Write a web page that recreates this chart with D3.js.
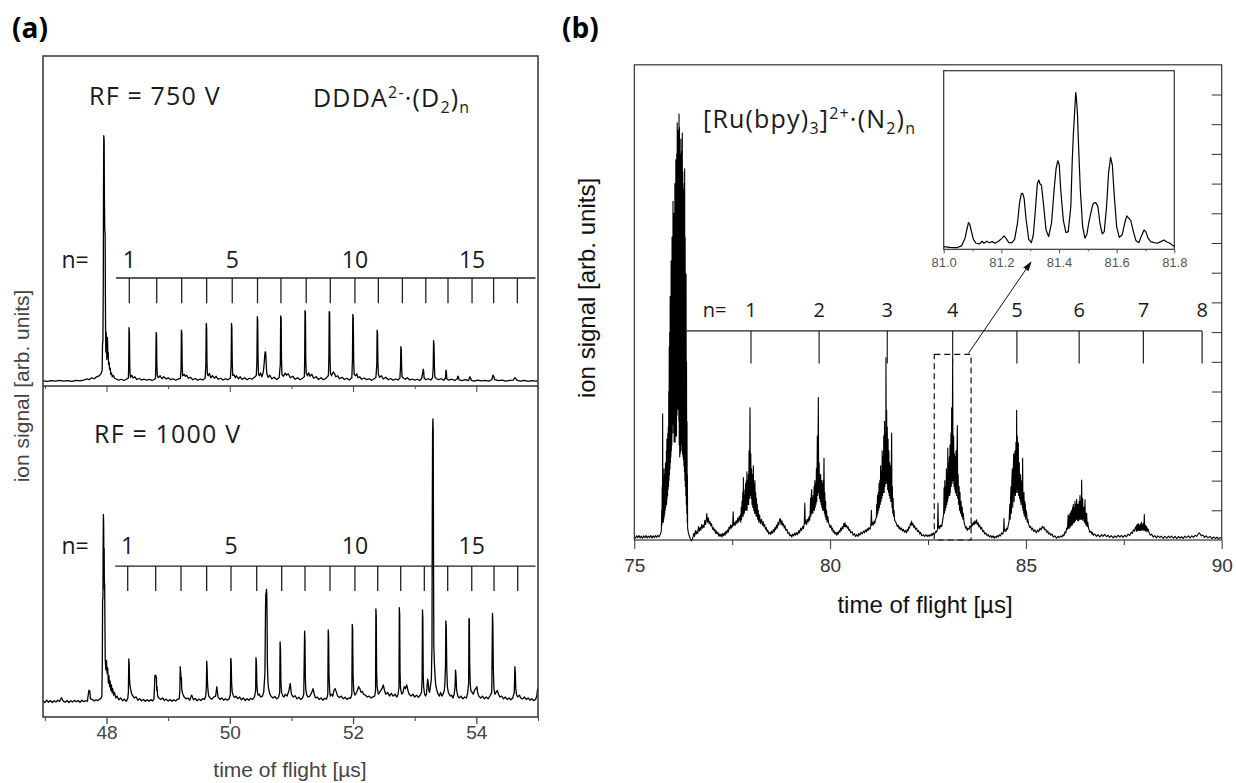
<!DOCTYPE html>
<html>
<head>
<meta charset="utf-8">
<script src="https://cdn.jsdelivr.net/npm/d3@7"></script>
<style>
  body { margin: 0; background: #fff; }
  svg { display: block; }
</style>
</head>
<body>
<svg id="chart" width="1236" height="783"></svg>
<script>
// ---------- panel (a): DDDA2-.(D2)n, time of flight in us, signal in arb. units ----------
const xMajorA = [48, 50, 52, 54];
const xMinorA = [47, 49, 51, 53, 55];

// RF = 750 V (main peak = 100)
const traceTop = [
  [46.97,0.3],[47.04,0.1],[47.1,0.4],[47.17,0.2],[47.24,0.5],[47.3,0.2],[47.37,0.4],[47.44,0.1],[47.51,0.5],[47.57,0.3],
  [47.63,0.6],[47.68,1.1],[47.72,0.8],[47.76,1.6],[47.8,1.2],[47.84,2.0],[47.88,2.4],[47.91,3.2],[47.93,4.6],
  [47.935,15],[47.942,16.5],[47.948,40],[47.952,82],[47.956,100],[47.962,98],[47.966,75],[47.972,62],[47.978,60],[47.982,35],
  [47.986,18],[47.99,12],[47.995,20],[48.0,17],[48.005,9],[48.01,15],[48.016,18],[48.022,10],[48.028,12],[48.034,7],[48.042,8],
  [48.05,5],[48.06,5.5],[48.07,3],[48.08,3.5],[48.095,2],[48.11,2.6],[48.13,1.4],[48.16,1.1],[48.2,0.6],[48.24,1.0],[48.28,0.5],[48.32,0.9],
  [48.355,1.5],[48.36,6],[48.365,22],[48.372,20],[48.377,7],[48.383,3],[48.39,1.8],[48.41,2.6],[48.43,1.5],[48.46,2],[48.49,0.9],
  [48.53,1.3],[48.57,0.7],[48.61,1],[48.65,0.6],[48.7,0.9],[48.74,0.5],[48.78,1.0],
  [48.795,1.4],[48.8,7],[48.806,20],[48.812,19],[48.817,7],[48.824,2.5],[48.84,1.6],[48.87,2.4],[48.9,1.2],[48.93,2.0],[48.97,1.1],
  [49.0,1.6],[49.04,0.8],[49.08,1.2],[49.12,0.6],[49.16,1.0],[49.2,1.3],
  [49.21,6],[49.215,21],[49.222,20],[49.228,7],[49.235,2.4],[49.26,3],[49.28,2.2],[49.3,2.6],[49.33,1.4],[49.36,1.8],[49.4,0.8],
  [49.44,1.3],[49.48,0.6],[49.52,1.1],[49.56,0.7],[49.6,1.4],
  [49.612,7],[49.618,23.7],[49.625,22],[49.63,8],[49.637,3],[49.65,2.4],[49.67,3.4],[49.69,1.6],[49.72,2.5],[49.75,1.4],[49.78,2.2],
  [49.81,1.0],[49.85,1.4],[49.89,0.7],[49.93,1.2],[49.97,0.8],[50.01,1.5],
  [50.022,7],[50.028,23.7],[50.034,22],[50.04,8],[50.047,2.6],[50.07,2.8],[50.09,1.6],[50.11,2.4],[50.14,1.2],[50.17,2.0],[50.2,0.9],
  [50.24,1.6],[50.28,0.8],[50.32,1.4],[50.36,1.0],[50.4,1.8],[50.43,2.5],
  [50.44,8],[50.447,26.4],[50.453,25],[50.459,9],[50.466,3],[50.48,2.4],[50.5,3.6],[50.52,2.0],[50.545,4],[50.56,8],[50.568,11],
  [50.575,12.2],[50.583,11.8],[50.59,8],[50.6,3.5],[50.62,1.8],[50.65,2.6],[50.68,1.2],[50.72,1.8],[50.76,0.9],[50.8,1.6],
  [50.82,7],[50.826,26.7],[50.833,26],[50.839,9],[50.846,3],[50.87,2.2],[50.9,3.5],[50.92,2.6],[50.95,3.2],[50.98,1.6],[51.02,2.2],
  [51.06,1.0],[51.1,1.6],[51.14,0.8],[51.18,1.4],[51.21,2],
  [51.215,9],[51.22,28.9],[51.227,28],[51.233,9],[51.24,3.5],[51.26,2.4],[51.28,3.6],[51.3,2.2],[51.33,3.0],[51.36,1.4],[51.4,2.0],
  [51.44,0.9],[51.48,1.6],[51.52,0.8],[51.56,1.4],[51.6,2.5],
  [51.608,10],[51.613,28.5],[51.62,28],[51.626,10],[51.633,3.5],[51.65,2.4],[51.68,4],[51.7,3.2],[51.72,2.0],[51.75,2.4],[51.78,1.2],
  [51.82,1.8],[51.86,0.9],[51.9,1.4],[51.94,0.7],[51.98,1.6],
  [51.99,9],[51.996,27.4],[52.003,26],[52.01,9],[52.017,3],[52.04,2.4],[52.06,3.2],[52.08,1.6],[52.11,2.0],[52.14,1.0],[52.18,1.5],
  [52.22,0.8],[52.26,1.2],[52.3,0.6],[52.34,1.2],[52.37,1.6],
  [52.385,7],[52.39,21],[52.397,20],[52.403,8],[52.41,3],[52.43,1.8],[52.46,2.4],[52.49,1.1],[52.53,1.8],[52.57,0.8],[52.61,1.3],
  [52.65,0.6],[52.69,1.1],[52.73,0.7],[52.76,1.5],
  [52.77,6],[52.775,14.2],[52.782,13],[52.788,6],[52.795,2],[52.82,1.4],[52.85,1.0],[52.88,1.6],[52.92,0.7],[52.96,1.1],[53.0,0.6],
  [53.04,1.0],[53.08,0.5],[53.11,1.2],
  [53.13,3.5],[53.138,5.1],[53.145,4.5],[53.152,1.5],[53.18,0.8],[53.22,1.2],[53.26,0.7],[53.29,1.6],
  [53.3,6],[53.306,16.7],[53.313,15],[53.32,6],[53.327,2],[53.35,1.2],[53.39,0.8],[53.43,1.2],[53.47,0.6],[53.5,1.5],
  [53.507,4.7],[53.514,4],[53.52,1.2],[53.55,0.6],[53.6,1.0],[53.65,0.5],[53.69,1.2],[53.7,2.3],[53.708,2],[53.72,0.7],
  [53.77,0.4],[53.82,0.8],[53.87,0.4],[53.895,2],[53.905,1.6],[53.92,0.5],[53.97,0.2],[54.02,0.6],[54.08,0.3],[54.14,0.5],
  [54.2,0.2],[54.25,0.8],[54.27,2.7],[54.28,2.2],[54.3,0.8],[54.36,0.4],[54.42,0.6],[54.48,0.2],[54.54,0.5],[54.6,0.6],
  [54.625,1.6],[54.64,1.3],[54.66,0.5],[54.72,0.2],[54.78,0.5],[54.84,0.1],[54.9,0.4],[54.96,0.2],[55.0,0.3]
];

// RF = 1000 V (main peak = 100)
const traceBottom = [
  [46.97,0.5],[47.0,-0.5],[47.03,0.8],[47.06,-0.3],[47.09,0.6],[47.12,-0.4],[47.15,0.5],[47.18,-0.2],[47.21,0.8],[47.24,0.2],
  [47.26,1.5],[47.27,2.1],[47.285,1.2],[47.3,0.2],[47.33,-0.3],[47.36,0.6],[47.39,-0.4],[47.42,0.5],[47.45,-0.2],[47.48,0.7],
  [47.51,0.0],[47.54,0.6],[47.57,-0.3],[47.6,0.8],[47.63,0.0],[47.66,0.5],[47.69,0.3],[47.705,4],[47.715,6.2],[47.73,5.5],
  [47.74,1.5],[47.77,1.2],[47.8,0.4],[47.83,1.0],[47.86,0.6],[47.89,1.4],[47.91,1.8],[47.925,3],[47.932,20],[47.937,55],
  [47.942,55],[47.946,85],[47.95,100],[47.954,95],[47.958,72],[47.962,82],[47.966,60],[47.97,63],[47.975,40],[47.98,22],
  [47.99,17],[48.0,22],[48.01,15],[48.02,18],[48.03,10],[48.04,14],[48.05,8],[48.06,11],[48.07,6],[48.08,9],[48.09,5],[48.1,7],
  [48.115,3.5],[48.13,5],[48.15,2],[48.17,3],[48.2,1],[48.23,2],[48.26,0.5],[48.29,1.4],[48.32,0.2],[48.345,1.8],
  [48.355,5],[48.362,22.8],[48.368,20],[48.374,12],[48.38,9],[48.39,7],[48.4,5.5],[48.41,4],[48.43,3],[48.45,2],[48.48,2.6],
  [48.51,0.8],[48.54,1.6],[48.57,0.5],[48.6,1.2],[48.63,0.2],[48.66,1],[48.69,0.3],[48.72,1.1],[48.75,0.4],[48.77,1.5],
  [48.78,9],[48.785,14],[48.795,13],[48.8,14.2],[48.81,12.5],[48.815,6],[48.82,8],[48.83,3],[48.85,2],[48.88,1.2],[48.91,2],
  [48.94,0.6],[48.97,1.4],[49.0,0.3],[49.03,1.2],[49.06,0.2],[49.09,1.0],[49.12,0.4],[49.15,1.3],[49.18,1.5],
  [49.19,6],[49.196,18.7],[49.203,16],[49.21,12],[49.215,13],[49.22,7],[49.23,5],[49.24,4],[49.26,2.5],[49.29,1.5],[49.32,2],
  [49.35,0.8],[49.38,3.5],[49.39,3],[49.41,1],[49.44,1.8],[49.47,0.5],[49.5,1.4],[49.53,0.6],[49.56,1.6],[49.59,1.2],[49.61,3],
  [49.62,8],[49.626,21.7],[49.632,18],[49.64,9],[49.65,5],[49.66,3],[49.68,2],[49.71,1.4],[49.74,2.5],[49.77,3],[49.79,8],
  [49.8,5],[49.81,2.5],[49.84,1.2],[49.87,2],[49.9,0.8],[49.93,1.6],[49.96,0.8],[49.99,1.5],[50.01,4],
  [50.016,23.1],[50.022,22],[50.03,10],[50.04,5],[50.06,3],[50.08,2.2],[50.1,3],[50.13,1.6],[50.16,2.5],[50.19,1],[50.22,2],
  [50.25,0.6],[50.28,1.6],[50.31,0.8],[50.34,1.8],[50.37,1.2],[50.4,2.5],[50.42,6],
  [50.425,23.5],[50.432,21],[50.44,9],[50.45,5],[50.46,3.5],[50.48,4],[50.5,2.5],[50.53,3],[50.55,5],[50.57,15],[50.58,50],
  [50.585,58],[50.59,52],[50.595,60],[50.6,58],[50.605,45],[50.61,20],[50.62,10],[50.63,7],[50.65,4],[50.67,3],[50.7,2],
  [50.73,2.8],[50.76,1.5],[50.79,2.2],[50.81,5],
  [50.816,32],[50.823,28],[50.83,10],[50.84,5],[50.86,3],[50.88,2.5],[50.9,4],[50.93,3],[50.96,6],[50.98,9.8],[50.99,7],[51.0,4],
  [51.03,2.5],[51.06,3.2],[51.09,1.5],[51.12,2.4],[51.15,1.2],[51.18,2],[51.2,4],
  [51.214,37.7],[51.22,33],[51.226,12],[51.235,6],[51.25,3.5],[51.27,2.5],[51.3,3],[51.33,5],[51.35,7],[51.37,4],[51.39,2],
  [51.42,2.5],[51.45,1.2],[51.48,2],[51.51,0.8],[51.54,1.8],[51.57,1.4],[51.59,4],
  [51.597,38.3],[51.603,35],[51.61,14],[51.62,6],[51.63,3],[51.65,4],[51.67,3],[51.69,6],[51.71,7],[51.73,5],[51.75,3],
  [51.78,2.2],[51.81,3],[51.84,1.5],[51.87,2.4],[51.9,1.2],[51.93,2],[51.96,1.8],[51.98,4],
  [51.987,41.3],[51.993,39],[52.0,14],[52.01,6],[52.03,3.5],[52.05,4.5],[52.07,6],[52.09,8],[52.11,7],[52.13,5],[52.15,5.5],
  [52.17,4],[52.2,3.5],[52.23,2.5],[52.26,3],[52.29,2],[52.32,2.6],[52.35,3],[52.365,6],
  [52.37,49.5],[52.376,46],[52.382,16],[52.39,8],[52.41,4],[52.43,5],[52.45,6],[52.47,7],[52.49,9],[52.51,6],[52.53,4],
  [52.56,5],[52.59,3],[52.62,4.5],[52.65,3],[52.68,4],[52.71,2.5],[52.73,4],[52.745,8],
  [52.75,50.2],[52.756,47],[52.762,16],[52.77,7],[52.79,4],[52.81,5],[52.83,8],[52.85,7],[52.87,9],[52.89,6],[52.91,4],
  [52.94,3],[52.97,4],[53.0,2.5],[53.03,3.5],[53.06,2.4],[53.09,3.5],[53.11,5],[53.12,12],
  [53.126,49],[53.132,45],[53.138,15],[53.145,8],[53.16,4],[53.175,3],[53.19,4],[53.2,8],
  [53.21,12],[53.22,10],[53.23,6],[53.24,5],[53.25,7],[53.27,12],[53.28,30],[53.285,100],[53.29,143],[53.295,151],[53.3,145],
  [53.305,80],[53.31,30],[53.32,20],[53.33,14],[53.34,9],[53.36,6],[53.38,4],[53.4,3],[53.42,5],[53.44,3],[53.46,4],[53.48,6],[53.49,10],
  [53.5,20],[53.505,43.2],[53.512,40],[53.52,18],[53.53,8],[53.545,5],[53.56,4],[53.58,3],[53.6,3.5],[53.62,2],[53.64,4],[53.655,8],
  [53.662,16.9],[53.67,14],[53.68,6],[53.7,3],[53.72,2],[53.75,3],[53.78,1.5],[53.81,2.5],[53.84,2],[53.86,5],[53.875,10],
  [53.88,44.5],[53.886,44],[53.892,20],[53.9,10],[53.91,6],[53.93,5],[53.95,4],[53.97,6],[53.99,7],[54.01,8],[54.02,5],
  [54.04,3],[54.07,2],[54.1,3],[54.13,1.5],[54.16,2.5],[54.19,1.5],[54.22,3],[54.25,5],
  [54.262,47.2],[54.268,42],[54.275,18],[54.285,7],[54.3,4],[54.32,5],[54.34,6],[54.36,4],[54.38,2.5],[54.41,3],[54.44,1.5],
  [54.47,2.5],[54.5,1.2],[54.53,2],[54.56,1],[54.59,2],[54.615,5],
  [54.625,18.7],[54.632,16],[54.64,7],[54.65,4],[54.67,2.5],[54.7,3.5],[54.72,2],[54.75,1.5],[54.78,2.5],[54.81,1.2],[54.84,2],
  [54.87,0.8],[54.9,1.6],[54.93,0.6],[54.96,1.2],[54.98,3],[54.995,7]
];

// cluster positions n = 1..17 marked on the two ladders
const ladderTopT = [48.37,48.815,49.22,49.625,50.04,50.45,50.83,51.24,51.63,52.03,52.41,52.80,53.18,53.54,53.93,54.28,54.665];
const ladderBotT = [48.344,48.798,49.209,49.625,50.02,50.437,50.842,51.22,51.626,52.03,52.4,52.773,53.156,53.535,53.925,54.287,54.671];
const ladderLabelsA = [1, 5, 10, 15];

// ---------- panel (b): [Ru(bpy)3]2+.(N2)n ----------
const xMajorB = [75, 80, 85, 90];
const xMinorB = [77.5, 82.5, 87.5];
const yTicksB = [1,2,3,4,5,6,7,8,9,10,11,12,13,14,15];

const traceB = [
  [75.0,0.12],[75.03,0.06],[75.06,0.14],[75.09,0.08],[75.12,0.15],[75.15,0.07],[75.18,0.13],[75.21,0.06],[75.24,0.14],[75.27,0.08],
  [75.3,0.15],[75.33,0.07],[75.36,0.13],[75.39,0.08],[75.42,0.15],[75.45,0.07],[75.48,0.14],[75.51,0.08],[75.54,0.15],[75.57,0.09],
  [75.6,0.16],[75.63,0.1],[75.66,0.18],[75.69,0.3],
  [75.70,1.0],[75.705,0.5],[75.712,1.8],[75.718,0.6],[75.724,4.25],[75.73,0.8],[75.736,2.1],[75.742,0.6],[75.748,1.9],[75.754,0.7],
  [75.76,2.4],[75.766,0.8],[75.772,2.2],[75.778,0.9],[75.784,2.0],[75.79,1.0],[75.796,2.6],[75.802,1.1],[75.808,2.5],[75.814,1.2],
  [75.82,3.0],[75.826,1.2],[75.832,3.4],[75.838,1.4],[75.844,2.8],[75.85,1.5],[75.856,3.6],[75.862,1.7],[75.868,3.8],[75.874,1.8],
  [75.88,5.0],[75.886,2.0],[75.892,6.5],[75.898,2.2],[75.904,7.0],[75.91,2.4],[75.916,8.2],[75.922,2.6],[75.928,7.5],[75.934,2.8],
  [75.94,9.4],[75.946,3.0],[75.952,8.8],[75.958,3.2],[75.964,10.2],[75.97,3.6],[75.976,9.6],[75.982,3.9],[75.988,11.4],[75.994,4.0],
  [76.0,10.5],[76.006,3.6],[76.012,11.0],[76.018,3.3],[76.024,10.8],[76.03,3.4],[76.036,12.0],[76.042,3.3],[76.048,11.5],[76.054,3.5],
  [76.06,12.8],[76.066,3.6],[76.072,12.2],[76.078,3.5],[76.084,13.0],[76.09,4.2],[76.096,14.05],[76.102,4.5],[76.108,13.2],[76.114,4.4],
  [76.12,13.8],[76.126,4.5],[76.132,13.5],[76.138,4.0],[76.142,14.34],[76.148,3.2],[76.154,13.9],[76.16,2.8],[76.166,13.0],[76.172,2.9],
  [76.178,12.6],[76.184,3.0],[76.19,13.5],[76.196,3.3],[76.202,12.8],[76.208,3.2],[76.214,13.1],[76.22,3.0],[76.226,13.7],[76.232,2.9],
  [76.238,12.4],[76.244,2.8],[76.25,11.0],[76.256,2.7],[76.262,11.8],[76.268,2.5],[76.274,12.0],[76.28,2.3],[76.286,12.5],[76.292,2.0],
  [76.298,10.2],[76.304,1.8],[76.31,9.0],[76.316,1.5],[76.322,8.95],[76.328,1.2],[76.334,6.0],[76.34,0.9],[76.346,4.0],[76.352,0.6],
  [76.356,2.2],[76.362,0.4],
  [76.38,0.25],[76.40,0.15],[76.43,0.05],[76.46,-0.03],[76.49,0.05],[76.52,0.22],[76.54,0.12],[76.56,0.32],[76.58,0.2],[76.6,0.3],
  [76.62,0.22],[76.64,0.45],[76.66,0.3],[76.68,0.42],[76.7,0.33],[76.72,0.52],[76.74,0.4],[76.76,0.5],[76.78,0.42],[76.8,0.66],
  [76.82,0.52],[76.84,0.7],[76.85,0.89],[76.87,0.6],[76.89,0.75],[76.91,0.55],[76.93,0.62],[76.95,0.48],[76.97,0.55],[77.0,0.36],
  [77.02,0.42],[77.04,0.3],[77.06,0.36],[77.08,0.22],[77.1,0.3],[77.12,0.2],[77.14,0.25],[77.16,0.12],[77.18,0.2],[77.2,0.13],
  [77.22,0.2],[77.24,0.1],[77.26,0.22],[77.28,0.15],[77.3,0.24],[77.32,0.16],[77.34,0.3],[77.36,0.22],[77.38,0.34],[77.4,0.26],
  [77.42,0.44],[77.44,0.36],[77.46,0.5],[77.48,0.4],[77.5,0.52],[77.51,0.45],[77.525,0.95],[77.535,0.5],[77.55,0.6],[77.57,0.48],
  [77.6,0.65],[77.62,0.55],[77.64,0.74],[77.66,0.6],[77.68,0.8],[77.7,0.65],[77.71,0.85],
  [77.72,0.6],[77.73,1.1],[77.74,0.7],[77.75,1.3],[77.76,0.8],[77.77,1.6],[77.78,0.8],[77.785,2.1],[77.79,0.9],[77.8,1.7],
  [77.81,0.9],[77.82,1.5],[77.83,1.0],[77.84,1.9],[77.85,1.0],[77.86,2.0],[77.87,1.1],[77.875,2.3],[77.88,1.0],[77.89,2.0],
  [77.9,1.2],[77.91,2.2],[77.92,1.2],[77.93,3.0],[77.94,1.4],[77.955,4.45],[77.965,1.5],[77.975,2.9],[77.985,1.4],[77.995,2.4],
  [78.005,1.2],[78.015,2.2],[78.025,1.1],[78.035,2.0],[78.04,2.5],[78.05,1.0],[78.06,1.9],[78.07,0.9],[78.08,2.0],[78.09,0.9],
  [78.1,1.6],[78.11,0.8],[78.12,1.4],[78.13,0.8],[78.14,1.2],[78.15,0.7],[78.165,1.0],[78.18,0.6],[78.2,0.85],[78.22,0.55],[78.25,0.7],
  [78.27,0.5],[78.29,0.62],[78.31,0.45],[78.33,0.52],[78.35,0.36],[78.37,0.42],[78.39,0.28],[78.41,0.34],[78.43,0.2],[78.46,0.26],
  [78.48,0.18],[78.5,0.3],[78.52,0.22],[78.55,0.35],[78.57,0.26],[78.59,0.42],[78.61,0.34],[78.63,0.5],[78.65,0.4],[78.67,0.6],
  [78.69,0.5],[78.71,0.7],[78.72,0.62],[78.73,0.72],[78.75,0.52],[78.77,0.65],[78.79,0.48],[78.81,0.55],[78.83,0.4],[78.85,0.48],
  [78.87,0.32],[78.9,0.36],[78.92,0.22],[78.95,0.26],[78.97,0.14],[79.0,0.18],[79.02,0.1],[79.05,0.2],[79.07,0.14],[79.1,0.24],
  [79.12,0.16],[79.15,0.25],[79.17,0.18],[79.2,0.32],[79.22,0.24],[79.25,0.4],[79.27,0.32],[79.3,0.46],[79.32,0.38],[79.34,0.55],
  [79.355,1.24],[79.365,0.55],[79.38,0.66],[79.4,0.52],[79.42,0.7],[79.44,0.6],[79.46,0.78],[79.48,0.66],[79.49,0.9],
  [79.5,1.4],[79.51,0.8],[79.52,1.5],[79.53,1.7],[79.54,0.9],[79.55,1.4],[79.56,0.9],[79.57,1.5],[79.58,1.0],[79.59,1.8],
  [79.6,1.0],[79.61,2.0],[79.62,1.1],[79.63,1.9],[79.64,1.2],[79.65,2.4],[79.66,1.3],[79.674,3.5],[79.685,1.5],[79.699,4.8],
  [79.71,1.6],[79.72,2.6],[79.73,1.4],[79.74,2.2],[79.75,1.3],[79.76,2.2],[79.77,1.2],[79.78,2.0],[79.79,1.1],[79.8,1.9],
  [79.81,1.0],[79.82,2.0],[79.83,1.0],[79.844,2.75],[79.855,0.9],[79.865,1.6],[79.875,0.8],[79.885,1.3],[79.895,0.7],[79.91,1.0],
  [79.925,0.6],[79.94,0.8],[79.96,0.6],
  [79.98,0.5],[80.0,0.42],[80.02,0.5],[80.04,0.34],[80.06,0.4],[80.08,0.26],[80.1,0.32],[80.12,0.2],[80.15,0.26],[80.17,0.16],
  [80.19,0.26],[80.21,0.2],[80.23,0.32],[80.25,0.26],[80.27,0.4],[80.29,0.32],[80.31,0.45],[80.33,0.38],[80.35,0.55],[80.37,0.45],
  [80.38,0.58],[80.4,0.44],[80.42,0.5],[80.44,0.4],[80.46,0.45],[80.48,0.32],[80.5,0.36],[80.53,0.24],[80.56,0.28],[80.59,0.16],
  [80.62,0.22],[80.65,0.12],[80.68,0.18],[80.71,0.12],[80.73,0.22],[80.76,0.16],[80.79,0.26],[80.82,0.2],[80.85,0.3],[80.88,0.24],
  [80.9,0.34],[80.93,0.28],[80.95,0.38],[80.97,0.32],[80.99,0.42],[81.02,0.36],[81.04,0.48],[81.055,1.0],[81.065,0.5],[81.08,0.6],
  [81.1,0.5],[81.12,0.64],[81.14,0.55],[81.16,0.7],[81.18,0.75],
  [81.19,1.2],[81.2,0.8],[81.21,1.5],[81.22,0.9],[81.23,1.6],[81.24,1.0],[81.25,1.9],[81.26,1.1],[81.27,2.0],[81.28,1.2],
  [81.29,2.5],[81.3,1.3],[81.31,2.3],[81.32,1.4],[81.33,3.0],[81.34,1.5],[81.35,2.8],[81.36,1.6],[81.37,3.5],[81.38,1.6],
  [81.39,4.0],[81.4,1.8],[81.41,3.6],[81.42,1.9],[81.427,6.14],[81.435,2.0],[81.444,4.37],[81.452,1.9],[81.46,3.8],[81.47,1.7],
  [81.48,3.4],[81.49,1.6],[81.5,3.0],[81.51,1.5],[81.52,2.6],[81.53,1.4],[81.54,2.5],[81.55,1.3],[81.56,2.2],[81.572,3.6],
  [81.58,1.1],[81.59,1.8],[81.6,0.9],[81.61,1.4],[81.62,0.8],[81.632,1.0],[81.65,0.65],[81.68,0.6],
  [81.7,0.52],[81.72,0.45],[81.74,0.5],[81.76,0.38],[81.78,0.44],[81.8,0.34],[81.82,0.4],[81.85,0.3],[81.87,0.36],[81.9,0.26],
  [81.92,0.32],[81.95,0.24],[81.97,0.36],[81.99,0.3],[82.01,0.44],[82.03,0.4],[82.05,0.56],[82.07,0.5],[82.08,0.64],[82.1,0.5],
  [82.12,0.55],[82.14,0.42],[82.16,0.48],[82.18,0.36],[82.21,0.4],[82.23,0.28],[82.26,0.32],[82.29,0.2],[82.31,0.26],[82.34,0.14],
  [82.38,0.18],[82.41,0.12],[82.45,0.18],[82.48,0.12],[82.5,0.17],[82.53,0.12],[82.55,0.18],[82.58,0.14],[82.6,0.22],[82.62,0.16],
  [82.64,0.24],[82.67,0.2],[82.7,0.3],[82.72,0.26],[82.745,0.38],[82.755,1.24],[82.765,0.4],[82.78,0.48],[82.8,0.38],[82.82,0.5],
  [82.85,0.45],[82.87,0.62],[82.88,0.7],[82.9,0.9],
  [82.91,1.76],[82.92,0.9],[82.93,2.0],[82.94,1.0],[82.95,1.8],[82.96,1.1],[82.97,2.4],[82.98,1.2],[82.99,2.2],[83.0,1.3],
  [83.005,3.1],[83.015,1.4],[83.025,2.6],[83.035,1.5],[83.045,2.8],[83.055,1.5],[83.062,3.2],[83.07,1.6],[83.08,3.0],[83.087,3.6],
  [83.095,1.8],[83.104,4.45],[83.115,1.9],[83.13,6.11],[83.14,2.0],[83.155,3.5],[83.165,1.8],[83.175,2.9],[83.185,1.7],[83.19,2.8],
  [83.2,1.6],[83.215,3.0],[83.225,1.5],[83.235,2.5],[83.249,3.85],[83.26,1.4],[83.27,2.2],[83.283,1.2],[83.295,1.8],[83.305,1.0],
  [83.317,1.6],[83.33,0.9],[83.345,1.3],[83.36,0.8],[83.375,1.1],[83.39,0.7],[83.402,0.9],[83.42,0.6],
  [83.44,0.5],[83.46,0.4],[83.48,0.45],[83.5,0.32],[83.52,0.4],[83.55,0.36],[83.57,0.48],[83.6,0.42],[83.62,0.56],[83.64,0.48],
  [83.66,0.6],[83.68,0.52],[83.7,0.64],[83.72,0.55],[83.74,0.68],[83.76,0.52],[83.78,0.58],[83.8,0.44],[83.82,0.5],[83.85,0.36],
  [83.87,0.42],[83.9,0.28],[83.92,0.32],[83.95,0.2],[83.98,0.24],[84.01,0.14],[84.04,0.18],[84.07,0.1],[84.1,0.15],[84.13,0.08],
  [84.16,0.14],[84.19,0.06],[84.21,0.12],[84.24,0.08],[84.27,0.15],[84.3,0.1],[84.32,0.18],[84.35,0.14],[84.38,0.24],[84.41,0.2],
  [84.43,0.3],[84.44,0.72],[84.45,0.3],[84.47,0.36],[84.49,0.28],[84.51,0.4],[84.53,0.36],[84.55,0.5],[84.57,0.62],[84.59,1.2],
  [84.6,0.7],[84.61,1.5],[84.62,1.8],[84.63,0.9],[84.64,2.0],[84.654,2.4],[84.665,1.1],[84.675,2.2],[84.688,2.9],[84.7,1.3],
  [84.71,2.6],[84.722,3.0],[84.732,1.5],[84.74,2.8],[84.747,3.3],[84.755,1.6],[84.764,4.37],[84.772,1.7],[84.781,3.5],[84.79,1.6],
  [84.8,2.8],[84.807,3.27],[84.815,1.5],[84.825,2.4],[84.832,2.6],[84.84,1.4],[84.85,2.1],[84.86,1.3],[84.866,2.2],[84.875,1.2],
  [84.885,1.9],[84.9,2.0],[84.908,1.1],[84.917,2.75],[84.925,1.0],[84.935,1.6],[84.945,0.9],[84.951,1.6],[84.96,0.8],[84.97,1.3],
  [84.985,1.2],[84.995,0.7],[85.005,1.0],[85.02,0.9],[85.035,0.6],[85.05,0.7],[85.065,0.55],
  [85.08,0.5],[85.1,0.42],[85.12,0.46],[85.15,0.34],[85.17,0.4],[85.2,0.28],[85.23,0.34],[85.27,0.24],[85.3,0.34],[85.33,0.28],
  [85.36,0.4],[85.39,0.34],[85.42,0.46],[85.44,0.4],[85.46,0.44],[85.48,0.34],[85.51,0.36],[85.53,0.26],[85.56,0.3],[85.58,0.2],
  [85.61,0.24],[85.63,0.16],[85.67,0.2],[85.7,0.1],[85.74,0.14],[85.78,0.06],[85.82,0.12],[85.85,0.08],[85.89,0.14],[85.92,0.1],
  [85.95,0.18],[85.97,0.14],[86.0,0.28],[86.02,0.24],[86.04,0.4],[86.06,0.36],[86.08,0.85],
  [86.09,0.4],[86.1,0.8],[86.11,0.4],[86.126,0.9],[86.14,0.45],[86.15,0.95],[86.16,0.5],[86.169,1.0],[86.18,0.5],[86.19,1.1],
  [86.2,0.55],[86.211,1.2],[86.22,0.6],[86.23,1.1],[86.24,0.6],[86.254,1.3],[86.265,0.65],[86.275,1.2],[86.285,0.7],[86.296,1.36],
  [86.305,0.7],[86.315,1.2],[86.325,0.65],[86.339,1.2],[86.35,0.65],[86.36,1.3],[86.37,0.7],[86.381,1.5],[86.39,0.7],[86.4,1.3],
  [86.41,0.7],[86.424,2.02],[86.435,0.7],[86.449,1.4],[86.46,0.65],[86.47,1.1],[86.484,1.1],[86.495,0.6],[86.509,1.35],[86.52,0.55],
  [86.53,0.9],[86.54,0.5],[86.552,0.9],[86.565,0.45],[86.58,0.6],[86.594,0.45],
  [86.61,0.36],[86.63,0.26],[86.66,0.3],[86.68,0.2],[86.7,0.26],[86.72,0.16],[86.76,0.2],[86.8,0.12],[86.84,0.18],[86.89,0.1],
  [86.93,0.18],[86.97,0.12],[87.01,0.19],[87.06,0.11],[87.1,0.16],[87.14,0.09],[87.18,0.15],[87.23,0.07],[87.27,0.14],[87.31,0.09],
  [87.35,0.16],[87.4,0.1],[87.44,0.16],[87.48,0.09],[87.52,0.16],[87.57,0.11],[87.61,0.2],[87.65,0.15],[87.69,0.26],[87.72,0.22],
  [87.74,0.34],[87.77,0.3],[87.79,0.4],[87.81,0.45],
  [87.82,0.3],[87.829,0.5],[87.84,0.3],[87.85,0.52],[87.86,0.32],[87.871,0.55],[87.88,0.33],[87.89,0.5],[87.9,0.32],[87.914,0.5],
  [87.925,0.32],[87.935,0.55],[87.945,0.33],[87.956,0.6],[87.965,0.34],[87.975,0.5],[87.99,0.34],[87.999,0.55],[88.01,0.33],[88.024,0.86],
  [88.035,0.33],[88.05,0.5],[88.06,0.3],[88.07,0.45],[88.084,0.45],[88.095,0.28],[88.11,0.38],[88.126,0.35],
  [88.15,0.22],[88.18,0.16],[88.21,0.2],[88.25,0.1],[88.29,0.15],[88.33,0.07],[88.37,0.14],[88.42,0.08],[88.46,0.13],[88.51,0.05],
  [88.55,0.12],[88.6,0.06],[88.64,0.13],[88.68,0.08],[88.72,0.13],[88.77,0.06],[88.81,0.12],[88.85,0.05],[88.9,0.12],[88.94,0.06],
  [88.98,0.11],[89.02,0.05],[89.06,0.13],[89.1,0.08],[89.15,0.14],[89.19,0.07],[89.24,0.14],[89.28,0.09],[89.32,0.16],[89.36,0.12],
  [89.4,0.2],[89.43,0.24],[89.45,0.2],[89.48,0.14],[89.52,0.17],[89.56,0.09],[89.6,0.14],[89.65,0.07],[89.7,0.12],[89.75,0.05],
  [89.79,0.1],[89.84,0.05],[89.88,0.1],[89.92,0.04],[89.96,0.08],[90.0,0.05]
];

const ladderBT = [77.98, 79.72, 81.46, 83.13, 84.77, 86.36, 88.0, 89.5];
const ladderBLabels = [1, 2, 3, 4, 5, 6, 7, 8];

// inset: n = 4 cluster, zoomed
const xTicksInset = [81.0, 81.2, 81.4, 81.6, 81.8];
const xMinorInset = [81.1, 81.3, 81.5, 81.7];
const traceInset = [
  [81.0,1.5],[81.022,1.1],[81.045,0.9],[81.062,1.9],[81.074,6.2],[81.08,10.8],[81.086,14.9],[81.09,14.2],[81.095,10.8],[81.103,5.6],
  [81.112,3.4],[81.124,3.0],[81.133,4.5],[81.14,3.4],[81.149,4.5],[81.158,3.7],[81.168,4.3],[81.178,3.4],[81.19,4.5],[81.201,6.0],
  [81.209,7.5],[81.216,6.2],[81.226,3.7],[81.237,3.7],[81.246,5.6],[81.256,14.6],[81.263,25.7],[81.269,31.0],[81.274,31.3],[81.279,28.5],
  [81.286,16.4],[81.295,5.6],[81.304,3.7],[81.311,8.0],[81.318,22.0],[81.325,36.9],[81.33,38.8],[81.334,36.6],[81.339,36.0],[81.346,25.7],
  [81.355,10.8],[81.364,7.1],[81.374,14.6],[81.383,33.2],[81.39,45.3],[81.396,49.6],[81.401,47.2],[81.406,33.2],[81.415,16.4],[81.424,9.3],
  [81.432,9.9],[81.441,23.9],[81.446,50.0],[81.45,64.9],[81.455,78.9],[81.458,87.7],[81.46,85.4],[81.464,76.1],[81.468,57.5],[81.474,33.2],
  [81.482,12.7],[81.49,6.2],[81.497,8.6],[81.505,16.4],[81.514,22.9],[81.519,25.7],[81.528,26.1],[81.535,23.9],[81.542,14.6],[81.55,8.6],
  [81.557,9.9],[81.565,23.9],[81.572,42.9],[81.579,51.5],[81.585,47.2],[81.592,29.5],[81.6,12.7],[81.609,6.7],[81.619,8.0],[81.628,14.6],
  [81.635,18.7],[81.642,17.4],[81.649,16.0],[81.658,9.9],[81.667,4.9],[81.677,3.7],[81.686,7.5],[81.695,10.8],[81.701,9.9],[81.709,6.2],
  [81.718,4.3],[81.73,3.7],[81.741,3.4],[81.753,4.3],[81.764,5.2],[81.774,4.1],[81.785,3.4],[81.8,1.5]
];

// ---------------------------------------------------------------
const svg = d3.select('#chart');
svg.append('rect').attr('width', 1236).attr('height', 783).attr('fill', '#fff');

const tickFont = 'Liberation Sans, Arial, sans-serif';
const noteFont = 'Open Sans, sans-serif';

function styleAxis(g, color, size) {
  g.attr('font-family', tickFont).attr('font-size', size).attr('color', color);
  g.select('.domain').remove();
}

// ===== panel (a) =====
const xA = d3.scaleLinear().domain([46.97, 55.0]).range([43, 538]);
const yTop = d3.scaleLinear().domain([-1.75, 132.4]).range([386, 56]);
const yBot = d3.scaleLinear().domain([-8.17, 168.6]).range([717, 386]);

svg.append('text').attr('x', 12).attr('y', 38)
  .style('font-family', noteFont).style('font-weight', 700).style('font-size', '28px')
  .text('(a)');

const gA = svg.append('g');

gA.append('path').datum(traceTop)
  .attr('fill', 'none').attr('stroke', '#000').attr('stroke-width', 1.3).attr('stroke-linejoin', 'round')
  .attr('d', d3.line().x(d => xA(d[0])).y(d => yTop(d[1])));

gA.append('path').datum(traceBottom)
  .attr('fill', 'none').attr('stroke', '#000').attr('stroke-width', 1.3).attr('stroke-linejoin', 'round')
  .attr('d', d3.line().x(d => xA(d[0])).y(d => yBot(d[1])));

// frame and divider
gA.append('rect').attr('x', 43).attr('y', 56).attr('width', 495).attr('height', 661)
  .attr('fill', 'none').attr('stroke', '#333').attr('stroke-width', 1.5);
gA.append('line').attr('x1', 43).attr('x2', 538).attr('y1', 386).attr('y2', 386)
  .attr('stroke', '#333').attr('stroke-width', 1.5);

let ax = gA.append('g').attr('transform', 'translate(0,717)')
  .call(d3.axisBottom(xA).tickValues(xMajorA).tickSize(7).tickPadding(2).tickFormat(d3.format('d')));
styleAxis(ax, '#444', 19);
ax.selectAll('line').attr('stroke-width', 1.3);
ax = gA.append('g').attr('transform', 'translate(0,717)')
  .call(d3.axisBottom(xA).tickValues(xMinorA).tickSize(4).tickFormat(''));
styleAxis(ax, '#444', 19);
ax = gA.append('g').attr('transform', 'translate(0,386)')
  .call(d3.axisBottom(xA).tickValues(xMajorA).tickSize(6).tickFormat(''));
styleAxis(ax, '#444', 19);
ax = gA.append('g').attr('transform', 'translate(0,386)')
  .call(d3.axisBottom(xA).tickValues(xMinorA).tickSize(3).tickFormat(''));
styleAxis(ax, '#444', 19);

gA.append('text').attr('x', 290).attr('y', 777).attr('text-anchor', 'middle')
  .style('font-family', tickFont).style('font-size', '21px').style('fill', '#444')
  .text('time of flight [\u00b5s]');
gA.append('text').attr('transform', 'translate(29,386) rotate(-90)').attr('text-anchor', 'middle')
  .style('font-family', tickFont).style('font-size', '21px').style('fill', '#444')
  .text('ion signal [arb. units]');

// annotations
function noteText(g, x, y, size, spacing) {
  return g.append('text').attr('x', x).attr('y', y)
    .style('font-family', noteFont).style('font-size', size + 'px')
    .style('letter-spacing', spacing + 'px').style('fill', '#1a1a1a');
}
noteText(gA, 89, 105, 25, 1.2).text('RF = 750 V');
noteText(gA, 94, 443, 25, 1.2).text('RF = 1000 V');

const dd = noteText(gA, 313, 107, 25, 1.2);
dd.append('tspan').text('DDDA');
dd.append('tspan').attr('dy', -9).style('font-size', '16px').text('2-');
dd.append('tspan').attr('dy', 9).text('\u00b7(D');
dd.append('tspan').attr('dy', 6).style('font-size', '16px').text('2');
dd.append('tspan').attr('dy', -6).text(')');
dd.append('tspan').attr('dy', 6).style('font-size', '16px').text('n');

function ladderA(y, ticks, vLine, vTick, vLab, tStart) {
  const g = gA.append('g');
  g.append('line')
    .attr('x1', xA(tStart)).attr('x2', xA(54.96))
    .attr('y1', y(vLine)).attr('y2', y(vLine))
    .attr('stroke', '#222').attr('stroke-width', 1.3);
  g.selectAll('line.tk').data(ticks).enter().append('line').attr('class', 'tk')
    .attr('x1', d => xA(d)).attr('x2', d => xA(d))
    .attr('y1', y(vLine)).attr('y2', y(vTick))
    .attr('stroke', '#222').attr('stroke-width', 1.3);
  g.selectAll('text.lb').data(ladderLabelsA).enter().append('text').attr('class', 'lb')
    .attr('x', d => xA(ticks[d - 1])).attr('y', y(vLab)).attr('text-anchor', 'middle')
    .style('font-family', noteFont).style('font-size', '23px').style('fill', '#1a1a1a')
    .text(d => d);
  g.append('text').attr('x', xA(47.27)).attr('y', y(vLab))
    .style('font-family', noteFont).style('font-size', '23px').style('fill', '#1a1a1a')
    .text('n=');
}
ladderA(yTop, ladderTopT, 42.15, 31.9, 46.3, 48.155);
ladderA(yBot, ladderBotT, 72.45, 59.1, 78.7, 48.14);

// ===== panel (b) =====
const xB = d3.scaleLinear().domain([75, 90]).range([634.3, 1221.7]);
const yB = d3.scaleLinear().domain([0, 16]).range([540, 64.8]);

svg.append('text').attr('x', 562).attr('y', 38)
  .style('font-family', noteFont).style('font-weight', 700).style('font-size', '28px')
  .text('(b)');

const gB = svg.append('g');

gB.append('path').datum(traceB)
  .attr('fill', 'none').attr('stroke', '#000').attr('stroke-width', 1.1).attr('stroke-linejoin', 'round')
  .attr('d', d3.line().x(d => xB(d[0])).y(d => yB(d[1])));

gB.append('rect').attr('x', 634.3).attr('y', 64.8).attr('width', 587.4).attr('height', 475.2)
  .attr('fill', 'none').attr('stroke', '#333').attr('stroke-width', 1.2);

ax = gB.append('g').attr('transform', 'translate(0,540)')
  .call(d3.axisBottom(xB).tickValues(xMajorB).tickSize(9).tickPadding(10).tickFormat(d3.format('d')));
styleAxis(ax, '#333', 19);
ax = gB.append('g').attr('transform', 'translate(0,540)')
  .call(d3.axisBottom(xB).tickValues(xMinorB).tickSize(5).tickFormat(''));
styleAxis(ax, '#333', 19);
ax = gB.append('g').attr('transform', 'translate(1221.7,0)')
  .call(d3.axisLeft(yB).tickValues(yTicksB).tickSize(10).tickFormat(''));
styleAxis(ax, '#333', 19);

gB.append('text').attr('x', 925).attr('y', 613).attr('text-anchor', 'middle')
  .style('font-family', tickFont).style('font-size', '24px').style('fill', '#111')
  .text('time of flight [\u00b5s]');
gB.append('text').attr('transform', 'translate(595,288) rotate(-90)').attr('text-anchor', 'middle')
  .style('font-family', tickFont).style('font-size', '24px').style('fill', '#111')
  .text('ion signal [arb. units]');

const ru = noteText(gB, 703, 128, 25, 1.2);
ru.append('tspan').text('[Ru(bpy)');
ru.append('tspan').attr('dy', 6).style('font-size', '16px').text('3');
ru.append('tspan').attr('dy', -6).text(']');
ru.append('tspan').attr('dy', -9).style('font-size', '16px').text('2+');
ru.append('tspan').attr('dy', 9).text('\u00b7(N');
ru.append('tspan').attr('dy', 6).style('font-size', '16px').text('2');
ru.append('tspan').attr('dy', -6).text(')');
ru.append('tspan').attr('dy', 6).style('font-size', '16px').text('n');

// ladder n = 1..8
const lb = gB.append('g');
lb.append('line').attr('x1', xB(76.31)).attr('x2', xB(89.5))
  .attr('y1', yB(7.04)).attr('y2', yB(7.04)).attr('stroke', '#222').attr('stroke-width', 1.2);
lb.selectAll('line.tk').data(ladderBT).enter().append('line').attr('class', 'tk')
  .attr('x1', d => xB(d)).attr('x2', d => xB(d))
  .attr('y1', yB(7.04)).attr('y2', yB(5.94))
  .attr('stroke', '#222').attr('stroke-width', 1.2);
lb.selectAll('text.lb').data(ladderBLabels).enter().append('text').attr('class', 'lb')
  .attr('x', (d, i) => xB(ladderBT[i])).attr('y', yB(7.51)).attr('text-anchor', 'middle')
  .style('font-family', noteFont).style('font-size', '20px').style('fill', '#1a1a1a')
  .text(d => d);
lb.append('text').attr('x', xB(76.75)).attr('y', yB(7.51))
  .style('font-family', noteFont).style('font-size', '20px').style('fill', '#1a1a1a')
  .text('n=');

// dashed selection box and arrow to inset
gB.append('rect')
  .attr('x', xB(82.66)).attr('y', yB(6.25))
  .attr('width', xB(83.6) - xB(82.66)).attr('height', yB(0) - yB(6.25))
  .attr('fill', 'none').attr('stroke', '#111').attr('stroke-width', 1.2).attr('stroke-dasharray', '6,4');

svg.append('defs').append('marker').attr('id', 'arrow')
  .attr('viewBox', '0 0 10 10').attr('refX', 9).attr('refY', 5)
  .attr('markerWidth', 10).attr('markerHeight', 10).attr('orient', 'auto')
  .append('path').attr('d', 'M0,1.8 L10,5 L0,8.2 Z').attr('fill', '#111');
gB.append('line')
  .attr('x1', xB(83.53)).attr('y1', yB(6.28))
  .attr('x2', xB(85.13)).attr('y2', yB(9.36))
  .attr('stroke', '#111').attr('stroke-width', 1).attr('marker-end', 'url(#arrow)');

// inset
const xI = d3.scaleLinear().domain([81.0, 81.8]).range([943.7, 1174.3]);
const yI = d3.scaleLinear().domain([0, 100]).range([249.3, 70.7]);
const gI = svg.append('g');
gI.append('rect').attr('x', 943.7).attr('y', 70.7).attr('width', 230.6).attr('height', 178.6)
  .attr('fill', '#fff').attr('stroke', '#333').attr('stroke-width', 1.2);
gI.append('path').datum(traceInset)
  .attr('fill', 'none').attr('stroke', '#000').attr('stroke-width', 1.2).attr('stroke-linejoin', 'round')
  .attr('d', d3.line().x(d => xI(d[0])).y(d => yI(d[1])));
ax = gI.append('g').attr('transform', 'translate(0,249.3)')
  .call(d3.axisBottom(xI).tickValues(xTicksInset).tickSize(4).tickPadding(4).tickFormat(d3.format('.1f')));
styleAxis(ax, '#555', 13);
ax = gI.append('g').attr('transform', 'translate(0,249.3)')
  .call(d3.axisBottom(xI).tickValues(xMinorInset).tickSize(2).tickFormat(''));
styleAxis(ax, '#555', 13);
</script>
</body>
</html>
